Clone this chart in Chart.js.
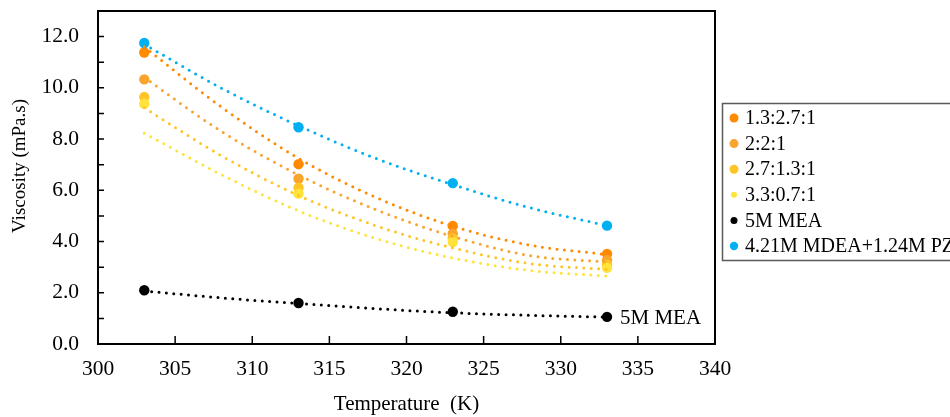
<!DOCTYPE html>
<html><head><meta charset="utf-8">
<script src="https://cdn.jsdelivr.net/npm/chart.js@4.4.1/dist/chart.umd.min.js"></script>
<style>html,body{margin:0;padding:0;background:#fff;overflow:hidden}canvas{display:block}</style>
</head><body>
<canvas id="c" width="950" height="417"></canvas>
<script>
// ---- data ----
const temperatures = [303, 313, 323, 333];
const seriesLabels = ['1.3:2.7:1', '2:2:1', '2.7:1.3:1', '3.3:0.7:1', '5M MEA', '4.21M MDEA+1.24M PZ'];
const visc_13_27_1 = [11.38, 7.02, 4.61, 3.52];
const visc_2_2_1   = [10.33, 6.45, 4.31, 3.27];
const visc_27_13_1 = [9.64, 6.10, 4.12, 3.10];
const visc_33_07_1 = [9.38, 5.87, 3.98, 2.97];
const visc_5M_MEA  = [2.10, 1.60, 1.26, 1.06];
const visc_MDEA_PZ = [11.75, 8.46, 6.28, 4.62];

const trendTemperatures = [303, 308, 313, 318, 323, 328, 333];
const trend_13_27_1 = [11.60, 9.25, 7.25, 5.73, 4.60, 3.86, 3.49];
const trend_2_2_1   = [10.40, 8.30, 6.60, 5.25, 4.20, 3.45, 3.20];
const trend_27_13_1 = [9.22, 7.35, 5.80, 4.62, 3.75, 3.14, 2.91];
const trend_33_07_1 = [8.23, 6.61, 5.20, 4.12, 3.36, 2.87, 2.65];
const trend_5M_MEA  = [2.07, 1.80, 1.58, 1.38, 1.22, 1.12, 1.05];
const trend_MDEA_PZ = [11.70, 9.99, 8.52, 7.25, 6.22, 5.32, 4.62];

const xTickValues = [300, 305, 310, 315, 320, 325, 330, 335, 340];
const yTickValues = [0, 2, 4, 6, 8, 10, 12];
const yMinorTickValues = [1, 3, 5, 7, 9, 11];
const annotationText = '5M MEA';
const xTitle = 'Temperature  (K)';
const yTitle = 'Viscosity (mPa.s)';

// ---- styles ----
const colors = ['#FF8A00', '#F9A42C', '#FFC526', '#FFE23A', '#000000', '#00B0F0'];
const legendRadii = [4.5, 4.5, 4.5, 3, 3.5, 4.2];
const serif = "'Liberation Serif', 'Times New Roman', serif";

const pointSeries = [visc_13_27_1, visc_2_2_1, visc_27_13_1, visc_33_07_1, visc_5M_MEA, visc_MDEA_PZ];
const trendSeries = [trend_13_27_1, trend_2_2_1, trend_27_13_1, trend_33_07_1, trend_5M_MEA, trend_MDEA_PZ];

const datasets = [];
pointSeries.forEach((vals, i) => {
  datasets.push({
    label: seriesLabels[i],
    data: temperatures.map((t, k) => ({x: t, y: vals[k]})),
    showLine: false,
    pointRadius: 5.2,
    pointBackgroundColor: colors[i],
    pointBorderColor: colors[i],
    pointBorderWidth: 0,
    order: 10 - i
  });
});
trendSeries.forEach((vals, i) => {
  datasets.push({
    label: seriesLabels[i] + ' trend',
    data: trendTemperatures.map((t, k) => ({x: t, y: vals[k]})),
    showLine: true,
    pointRadius: 0,
    borderColor: colors[i],
    borderWidth: 3,
    borderDash: [0, 7.4],
    borderCapStyle: 'round',
    cubicInterpolationMode: 'monotone',
    fill: false,
    order: 1
  });
});

const decorations = {
  id: 'decorations',
  afterDraw(chart) {
    const {ctx, chartArea: a, scales: {x, y}} = chart;
    ctx.save();
    // inward tick marks
    ctx.strokeStyle = '#000';
    ctx.lineWidth = 1.5;
    ctx.beginPath();
    xTickValues.forEach(v => {
      if (v === x.min || v === x.max) return;
      const px = x.getPixelForValue(v);
      ctx.moveTo(px, a.bottom); ctx.lineTo(px, a.bottom - 8);
    });
    yTickValues.concat(yMinorTickValues).forEach(v => {
      if (v === y.min) return;
      const py = y.getPixelForValue(v);
      ctx.moveTo(a.left, py); ctx.lineTo(a.left + 6, py);
    });
    ctx.stroke();
    // plot frame
    ctx.lineWidth = 2;
    ctx.strokeRect(a.left, a.top, a.right - a.left, a.bottom - a.top);

    // y axis title
    ctx.fillStyle = '#000';
    ctx.save();
    ctx.translate(20, 166);
    ctx.rotate(-Math.PI / 2);
    ctx.font = '19px ' + serif;
    ctx.textAlign = 'center';
    ctx.textBaseline = 'middle';
    ctx.fillText(yTitle, 0, 0);
    ctx.restore();

    // annotation next to last MEA point
    ctx.font = '21px ' + serif;
    ctx.textBaseline = 'middle';
    ctx.textAlign = 'left';
    const last = temperatures.length - 1;
    ctx.fillText(annotationText, x.getPixelForValue(temperatures[last]) + 13, y.getPixelForValue(visc_5M_MEA[last]) + 2);

    // legend
    const lx = 722.5, ly = 103.5, lw = 260, lh = 157;
    ctx.strokeStyle = '#5a5a5a';
    ctx.lineWidth = 1.5;
    ctx.strokeRect(lx, ly, lw, lh);
    ctx.font = '20px ' + serif;
    seriesLabels.forEach((lab, i) => {
      const cy = ly + 14.5 + i * 25.6;
      ctx.beginPath();
      ctx.fillStyle = colors[i];
      ctx.arc(lx + 11.5, cy, legendRadii[i], 0, Math.PI * 2);
      ctx.fill();
      ctx.fillStyle = '#000';
      ctx.fillText(lab, lx + 22.5, cy + 1);
    });
    ctx.restore();
  }
};

new Chart(document.getElementById('c'), {
  type: 'scatter',
  data: {datasets},
  options: {
    responsive: false,
    animation: false,
    devicePixelRatio: 1,
    layout: {padding: {top: 11, right: 235, left: 0, bottom: 0}},
    plugins: {legend: {display: false}, tooltip: {enabled: false}},
    scales: {
      x: {
        type: 'linear', min: 300, max: 340,
        afterFit: s => { s.height = 73; s.paddingLeft = 0; s.paddingRight = 0; },
        ticks: {stepSize: 5, color: '#000', font: {family: serif, size: 21.5}, padding: 12, maxRotation: 0},
        grid: {display: false, drawTicks: false},
        border: {display: false},
        title: {display: true, text: xTitle, color: '#000', font: {family: serif, size: 21}, padding: {top: 0, bottom: 0}}
      },
      y: {
        type: 'linear', min: 0, max: 13,
        afterFit: s => { s.width = 98; s.paddingTop = 0; s.paddingBottom = 0; },
        ticks: {stepSize: 2, includeBounds: false, color: '#000', font: {family: serif, size: 21.5}, padding: 19,
                callback: v => Number(v).toFixed(1)},
        grid: {display: false, drawTicks: false},
        border: {display: false}
      }
    }
  },
  plugins: [decorations]
});
</script>
</body></html>
